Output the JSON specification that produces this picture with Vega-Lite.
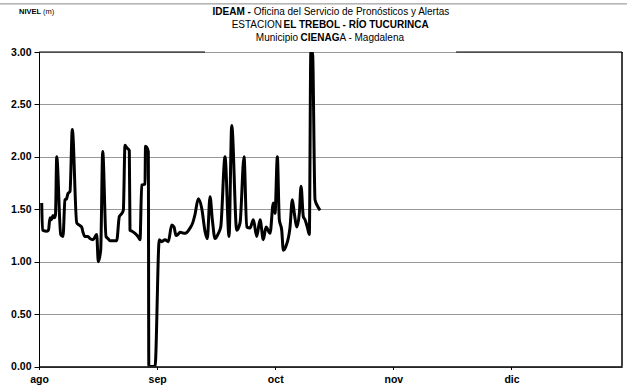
{
  "$schema": "https://vega.github.io/schema/vega-lite/v6.json",
  "width": 583,
  "height": 314.5,
  "autosize": {"type": "none"},
  "padding": {"left": 39, "top": 52, "right": 5, "bottom": 18.5},
  "background": "white",
  "config": {"view": {"stroke": null}, "font": "Liberation Sans"},
  "layer": [
    {
      "data": {"values": [
        {"dia": 0.71, "nivel": 1.56}, {"dia": 0.92, "nivel": 1.30}, {"dia": 2.10, "nivel": 1.29}, {"dia": 2.49, "nivel": 1.30},
        {"dia": 2.89, "nivel": 1.42}, {"dia": 3.28, "nivel": 1.40}, {"dia": 3.67, "nivel": 1.44}, {"dia": 4.07, "nivel": 1.42},
        {"dia": 4.33, "nivel": 1.45}, {"dia": 4.65, "nivel": 2.00}, {"dia": 5.70, "nivel": 1.26}, {"dia": 6.30, "nivel": 1.24},
        {"dia": 6.82, "nivel": 1.59}, {"dia": 7.22, "nivel": 1.60}, {"dia": 7.61, "nivel": 1.65}, {"dia": 8.14, "nivel": 1.67},
        {"dia": 8.74, "nivel": 2.26}, {"dia": 9.90, "nivel": 1.37}, {"dia": 10.50, "nivel": 1.35}, {"dia": 11.21, "nivel": 1.33},
        {"dia": 11.55, "nivel": 1.28}, {"dia": 12.07, "nivel": 1.24}, {"dia": 12.86, "nivel": 1.24}, {"dia": 13.39, "nivel": 1.22},
        {"dia": 14.17, "nivel": 1.21}, {"dia": 15.14, "nivel": 1.26}, {"dia": 15.56, "nivel": 1.00}, {"dia": 16.19, "nivel": 1.11},
        {"dia": 16.72, "nivel": 2.05}, {"dia": 17.59, "nivel": 1.24}, {"dia": 18.11, "nivel": 1.22}, {"dia": 18.64, "nivel": 1.20},
        {"dia": 19.42, "nivel": 1.20}, {"dia": 20.39, "nivel": 1.20}, {"dia": 21.08, "nivel": 1.43}, {"dia": 21.52, "nivel": 1.45},
        {"dia": 22.13, "nivel": 1.49}, {"dia": 22.57, "nivel": 2.11}, {"dia": 22.97, "nivel": 2.09}, {"dia": 23.70, "nivel": 2.06},
        {"dia": 23.88, "nivel": 1.30}, {"dia": 24.41, "nivel": 1.29}, {"dia": 25.20, "nivel": 1.27}, {"dia": 25.98, "nivel": 1.24},
        {"dia": 26.51, "nivel": 1.21}, {"dia": 26.96, "nivel": 1.73}, {"dia": 27.82, "nivel": 1.74}, {"dia": 27.95, "nivel": 2.10},
        {"dia": 28.69, "nivel": 2.05}, {"dia": 28.82, "nivel": 0.00}, {"dia": 30.45, "nivel": 0.00}, {"dia": 31.57, "nivel": 1.21},
        {"dia": 32.20, "nivel": 1.19}, {"dia": 33.07, "nivel": 1.21}, {"dia": 33.94, "nivel": 1.19}, {"dia": 34.83, "nivel": 1.35},
        {"dia": 35.43, "nivel": 1.33}, {"dia": 35.96, "nivel": 1.25}, {"dia": 36.48, "nivel": 1.26}, {"dia": 37.01, "nivel": 1.28},
        {"dia": 38.32, "nivel": 1.27}, {"dia": 39.63, "nivel": 1.32}, {"dia": 40.34, "nivel": 1.37}, {"dia": 40.94, "nivel": 1.45},
        {"dia": 41.81, "nivel": 1.60}, {"dia": 42.70, "nivel": 1.51}, {"dia": 43.57, "nivel": 1.29}, {"dia": 44.17, "nivel": 1.22},
        {"dia": 44.88, "nivel": 1.62}, {"dia": 45.49, "nivel": 1.40}, {"dia": 46.19, "nivel": 1.22}, {"dia": 47.06, "nivel": 1.27},
        {"dia": 47.69, "nivel": 1.33}, {"dia": 48.82, "nivel": 2.00}, {"dia": 49.87, "nivel": 1.24}, {"dia": 50.58, "nivel": 2.30},
        {"dia": 51.89, "nivel": 1.30}, {"dia": 52.76, "nivel": 1.37}, {"dia": 53.81, "nivel": 2.00}, {"dia": 54.51, "nivel": 1.33},
        {"dia": 55.38, "nivel": 1.32}, {"dia": 56.25, "nivel": 1.40}, {"dia": 57.14, "nivel": 1.24}, {"dia": 58.01, "nivel": 1.40},
        {"dia": 58.87, "nivel": 1.21}, {"dia": 59.58, "nivel": 1.33}, {"dia": 60.63, "nivel": 1.27}, {"dia": 61.50, "nivel": 1.56},
        {"dia": 61.94, "nivel": 1.46}, {"dia": 62.55, "nivel": 2.00}, {"dia": 63.07, "nivel": 1.40}, {"dia": 63.70, "nivel": 1.30},
        {"dia": 64.12, "nivel": 1.11}, {"dia": 64.83, "nivel": 1.15}, {"dia": 65.88, "nivel": 1.33}, {"dia": 66.48, "nivel": 1.59},
        {"dia": 67.01, "nivel": 1.46}, {"dia": 67.64, "nivel": 1.33}, {"dia": 68.32, "nivel": 1.46}, {"dia": 68.77, "nivel": 1.72},
        {"dia": 69.37, "nivel": 1.43}, {"dia": 69.82, "nivel": 1.40}, {"dia": 70.42, "nivel": 1.33}, {"dia": 70.94, "nivel": 1.26},
        {"dia": 71.34, "nivel": 3.00}, {"dia": 71.78, "nivel": 3.00}, {"dia": 72.44, "nivel": 1.59}, {"dia": 73.10, "nivel": 1.53},
        {"dia": 73.75, "nivel": 1.49}
      ]},
      "mark": {"type": "line", "color": "black", "strokeWidth": 3, "interpolate": "monotone", "strokeJoin": "round", "clip": true},
      "encoding": {
        "x": {"field": "dia", "type": "quantitative",
          "scale": {"domain": [0, 153], "nice": false, "zero": false},
          "axis": {"values": [0, 31, 62, 93, 124], "title": null, "grid": false,
            "labelExpr": "datum.value == 0 ? 'ago' : datum.value == 31 ? 'sep' : datum.value == 62 ? 'oct' : datum.value == 93 ? 'nov' : 'dic'",
            "tickSize": 3, "tickColor": "black", "domainColor": "black", "domainWidth": 1.5,
            "labelFontWeight": "bold", "labelFontSize": 10.5, "labelColor": "black", "labelPadding": 5, "labelFlush": false}},
        "y": {"field": "nivel", "type": "quantitative",
          "scale": {"domain": [0, 3], "nice": false, "zero": true},
          "axis": {"values": [0, 0.5, 1, 1.5, 2, 2.5, 3], "format": ".2f", "title": null,
            "grid": true, "gridDash": [1, 1], "gridColor": "#333", "gridOpacity": 1,
            "tickSize": 5, "tickColor": "black", "domainColor": "black", "domainWidth": 1,
            "labelFontWeight": "bold", "labelFontSize": 10.5, "labelColor": "black", "labelPadding": 3}}
      }
    },
    {
      "data": {"values": [{}]},
      "mark": {"type": "rule", "color": "black", "strokeWidth": 1},
      "encoding": {"x": {"datum": 0, "type": "quantitative"}, "x2": {"datum": 43.57}, "y": {"datum": 3, "type": "quantitative"}}
    },
    {
      "data": {"values": [{}]},
      "mark": {"type": "rule", "color": "black", "strokeWidth": 1},
      "encoding": {"x": {"datum": 109.45, "type": "quantitative"}, "x2": {"datum": 153}, "y": {"datum": 3, "type": "quantitative"}}
    },
    {
      "data": {"values": [{}]},
      "mark": {"type": "rule", "color": "black", "strokeWidth": 1.5},
      "encoding": {"x": {"datum": 153, "type": "quantitative"}, "y": {"datum": 0, "type": "quantitative"}, "y2": {"datum": 3}}
    },
    {
      "data": {"values": [{}]},
      "mark": {"type": "rule", "color": "#888", "strokeWidth": 1},
      "encoding": {"x": {"datum": -10.24, "type": "quantitative"}, "x2": {"datum": 154.3}, "y": {"datum": 3.459, "type": "quantitative"}}
    },
    {
      "data": {"values": [{}]},
      "mark": {"type": "text", "fontSize": 7.5, "fontWeight": "bold", "align": "left", "baseline": "middle", "color": "black"},
      "encoding": {"x": {"datum": -5.25, "type": "quantitative"}, "y": {"datum": 3.383, "type": "quantitative"}, "text": {"value": "NIVEL"}}
    },
    {
      "data": {"values": [{}]},
      "mark": {"type": "text", "fontSize": 7.5, "align": "left", "baseline": "middle", "color": "black"},
      "encoding": {"x": {"datum": 1.05, "type": "quantitative"}, "y": {"datum": 3.383, "type": "quantitative"}, "text": {"value": "(m)"}}
    },
    {
      "data": {"values": [{}]},
      "mark": {"type": "text", "fontSize": 10, "fontWeight": "bold", "align": "right", "baseline": "middle", "color": "black"},
      "encoding": {"x": {"datum": 55.6, "type": "quantitative"}, "y": {"datum": 3.383, "type": "quantitative"}, "text": {"value": "IDEAM -"}}
    },
    {
      "data": {"values": [{}]},
      "mark": {"type": "text", "fontSize": 10, "align": "left", "baseline": "middle", "color": "black"},
      "encoding": {"x": {"datum": 56.33, "type": "quantitative"}, "y": {"datum": 3.383, "type": "quantitative"}, "text": {"value": "Oficina del Servicio de Pronósticos y Alertas"}}
    },
    {
      "data": {"values": [{}]},
      "mark": {"type": "text", "fontSize": 10, "align": "right", "baseline": "middle", "color": "black"},
      "encoding": {"x": {"datum": 63.78, "type": "quantitative"}, "y": {"datum": 3.258, "type": "quantitative"}, "text": {"value": "ESTACION"}}
    },
    {
      "data": {"values": [{}]},
      "mark": {"type": "text", "fontSize": 10, "fontWeight": "bold", "align": "left", "baseline": "middle", "color": "black"},
      "encoding": {"x": {"datum": 64.17, "type": "quantitative"}, "y": {"datum": 3.258, "type": "quantitative"}, "text": {"value": "EL TREBOL - RÍO TUCURINCA"}}
    },
    {
      "data": {"values": [{}]},
      "mark": {"type": "text", "fontSize": 10, "align": "right", "baseline": "middle", "color": "black"},
      "encoding": {"x": {"datum": 68.0, "type": "quantitative"}, "y": {"datum": 3.134, "type": "quantitative"}, "text": {"value": "Municipio"}}
    },
    {
      "data": {"values": [{}]},
      "mark": {"type": "text", "fontSize": 10, "fontWeight": "bold", "align": "left", "baseline": "middle", "color": "black"},
      "encoding": {"x": {"datum": 68.64, "type": "quantitative"}, "y": {"datum": 3.134, "type": "quantitative"}, "text": {"value": "CIENAG"}}
    },
    {
      "data": {"values": [{}]},
      "mark": {"type": "text", "fontSize": 10, "align": "left", "baseline": "middle", "color": "black"},
      "encoding": {"x": {"datum": 78.87, "type": "quantitative"}, "y": {"datum": 3.134, "type": "quantitative"}, "text": {"value": "A - Magdalena"}}
    }
  ]
}
